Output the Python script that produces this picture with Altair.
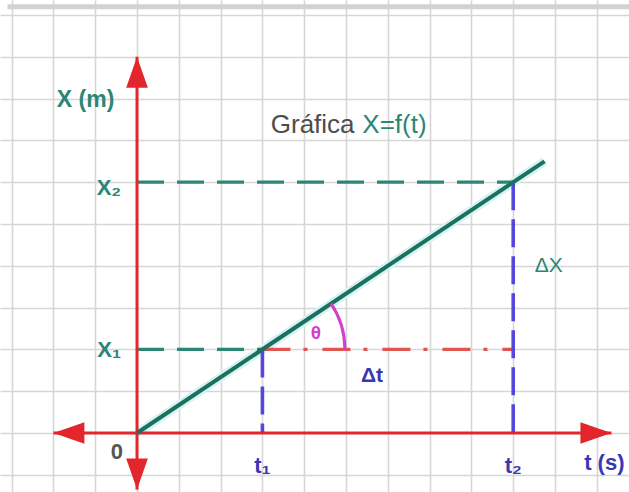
import math
import altair as alt
import pandas as pd

# Position-time graph X = f(t) for uniform motion, drawn on squared paper.
# All values are in grid squares.
t_marks = [3, 9]            # t1, t2
x_marks = [2, 6]            # X1, X2
line_t = [0, 9.75]          # ends of the X = f(t) line
line_x = [0, 6.5]
t_axis = [-2, 11.35]        # horizontal axis from left tip to right tip
x_axis = [-1.35, 9.0]       # vertical axis from bottom tip to top tip
grid_t = list(range(-3, 12))
grid_x = list(range(-1, 11))

W, H = 629, 492
xs = alt.Scale(domain=[-3.278, 11.770], nice=False, zero=False)
ys = alt.Scale(domain=[-1.411, 10.359], nice=False, zero=False)
xa = alt.Axis(values=grid_t, grid=True, gridColor="#d6d6d6", gridWidth=1.6,
              labels=False, ticks=False, domain=False, title=None)
ya = alt.Axis(values=grid_x, grid=True, gridColor="#d6d6d6", gridWidth=1.6,
              labels=False, ticks=False, domain=False, title=None)


def X(f):
    return alt.X(f, type="quantitative", scale=xs, axis=xa)


def Y(f):
    return alt.Y(f, type="quantitative", scale=ys, axis=ya)


def X2(f):
    return alt.X2(f)


def Y2(f):
    return alt.Y2(f)


t1, t2 = t_marks
x1, x2 = x_marks

RED = "#e3262b"
TEAL_LINE = "#1e6f60"
TEAL = "#2b8676"
BLUE = "#5546dc"
BLUE_TXT = "#3a37b4"
MAGENTA = "#d43fcc"

# paper edge along the top
edge = pd.DataFrame({"a": [-3.1], "b": [11.77], "y": [10.2]})
paper_edge = alt.Chart(edge).mark_rule(color="#d2d2d2", strokeWidth=5).encode(
    x=X("a"), x2=X2("b"), y=Y("y"))

# function line with a soft cyan fringe
fn = pd.DataFrame({"t": line_t, "x": line_x})
halo = alt.Chart(fn).mark_line(color="#d3f5f1", strokeWidth=9).encode(x=X("t"), y=Y("x"))
fline = alt.Chart(fn).mark_line(color=TEAL_LINE, strokeWidth=4).encode(x=X("t"), y=Y("x"))

# guide lines to the axes
teal_h = pd.DataFrame({"a": [0, 0], "b": [t2, t1], "y": [x2, x1]})
teal_dash = alt.Chart(teal_h).mark_rule(color=TEAL, strokeWidth=3.2, strokeDash=[27, 13]).encode(
    x=X("a"), x2=X2("b"), y=Y("y"))

red_h = pd.DataFrame({"a": [t1], "b": [t2], "y": [x1]})
red_dash = alt.Chart(red_h).mark_rule(color="#e05551", strokeWidth=3.2,
                                      strokeDash=[28, 13, 4, 15]).encode(
    x=X("a"), x2=X2("b"), y=Y("y"))

blue_v = pd.DataFrame({"t": [t1, t2], "a": [x1, x2], "b": [0, 0]})
blue_dash = alt.Chart(blue_v).mark_rule(color=BLUE, strokeWidth=3.6, strokeDash=[28, 9]).encode(
    x=X("t"), y=Y("a"), y2=Y2("b"))

# coordinate axes
axes_df = pd.DataFrame({
    "xa": [t_axis[0], 0], "xb": [t_axis[1], 0],
    "ya": [0, x_axis[0]], "yb": [0, x_axis[1]],
})
axes = alt.Chart(axes_df).mark_rule(color=RED, strokeWidth=3).encode(
    x=X("xa"), x2=X2("xb"), y=Y("ya"), y2=Y2("yb"))

# arrowheads at the axis tips (tip of the symbol sits on the data point)
heads = pd.DataFrame({
    "t": [0, t_axis[1], 0, t_axis[0]],
    "x": [x_axis[1], 0, x_axis[0], 0],
    "rot": [0, 90, 180, 270],
})
arrow = alt.Chart(heads).mark_point(
    shape="M0,0L0.7,2L-0.7,2Z", filled=True, opacity=1, color=RED, size=960
).encode(x=X("t"), y=Y("x"), angle=alt.Angle("rot:Q", scale=None))

# angle theta between the line and the horizontal through (t1, X1)
slope_deg = math.degrees(math.atan2(x2 - x1, t2 - t1))
arc_df = pd.DataFrame({"t": [t1], "x": [x1],
                       "th0": [math.radians(90 - slope_deg)], "th1": [math.pi / 2]})
arc = alt.Chart(arc_df).mark_arc(color=MAGENTA).encode(
    x=X("t"), y=Y("x"),
    theta=alt.Theta("th0:Q", scale=None), theta2=alt.Theta2("th1"),
    radius=alt.value(84), radius2=alt.value(81))

# text labels
labels = pd.DataFrame([
    dict(s="X (m)", t=-1.23, x=7.97, c=TEAL, z=23, a="center", w="bold"),
    dict(s="Gráfica", t=3.2, x=7.38, c="#4d4d4d", z=26, a="left", w="normal"),
    dict(s="X=f(t)", t=5.39, x=7.38, c=TEAL, z=26, a="left", w="normal"),
    dict(s="X₂", t=-0.38, x=5.86, c=TEAL, z=22, a="right", w="bold"),
    dict(s="X₁", t=-0.38, x=1.98, c=TEAL, z=22, a="right", w="bold"),
    dict(s="0", t=-0.48, x=-0.45, c="#555555", z=22, a="center", w="bold"),
    dict(s="t₁", t=t1, x=-0.78, c=BLUE_TXT, z=22, a="center", w="bold"),
    dict(s="t₂", t=t2, x=-0.78, c=BLUE_TXT, z=22, a="center", w="bold"),
    dict(s="t (s)", t=11.18, x=-0.72, c=BLUE_TXT, z=22, a="center", w="bold"),
    dict(s="ΔX", t=9.85, x=4.0, c=TEAL, z=21, a="center", w="normal"),
    dict(s="Δt", t=5.62, x=1.36, c=BLUE_TXT, z=21, a="center", w="bold"),
    dict(s="θ", t=4.28, x=2.39, c=MAGENTA, z=19, a="center", w="bold"),
])

text_layers = []
for (al, wt), grp in labels.groupby(["a", "w"]):
    text_layers.append(
        alt.Chart(grp).mark_text(align=al, baseline="middle", font="Liberation Sans",
                                 fontWeight=wt).encode(
            x=X("t"), y=Y("x"), text="s:N",
            color=alt.Color("c:N", scale=None),
            size=alt.Size("z:Q", scale=None))
    )

chart = alt.layer(
    paper_edge, halo, teal_dash, red_dash, blue_dash, axes, fline, arrow, arc, *text_layers
).properties(
    width=W, height=H, padding=0, autosize=alt.AutoSizeParams(type="none"),
    background="white",
).configure_view(stroke=None)

chart.save("out.html", embed_options={"renderer": "svg", "actions": False})
